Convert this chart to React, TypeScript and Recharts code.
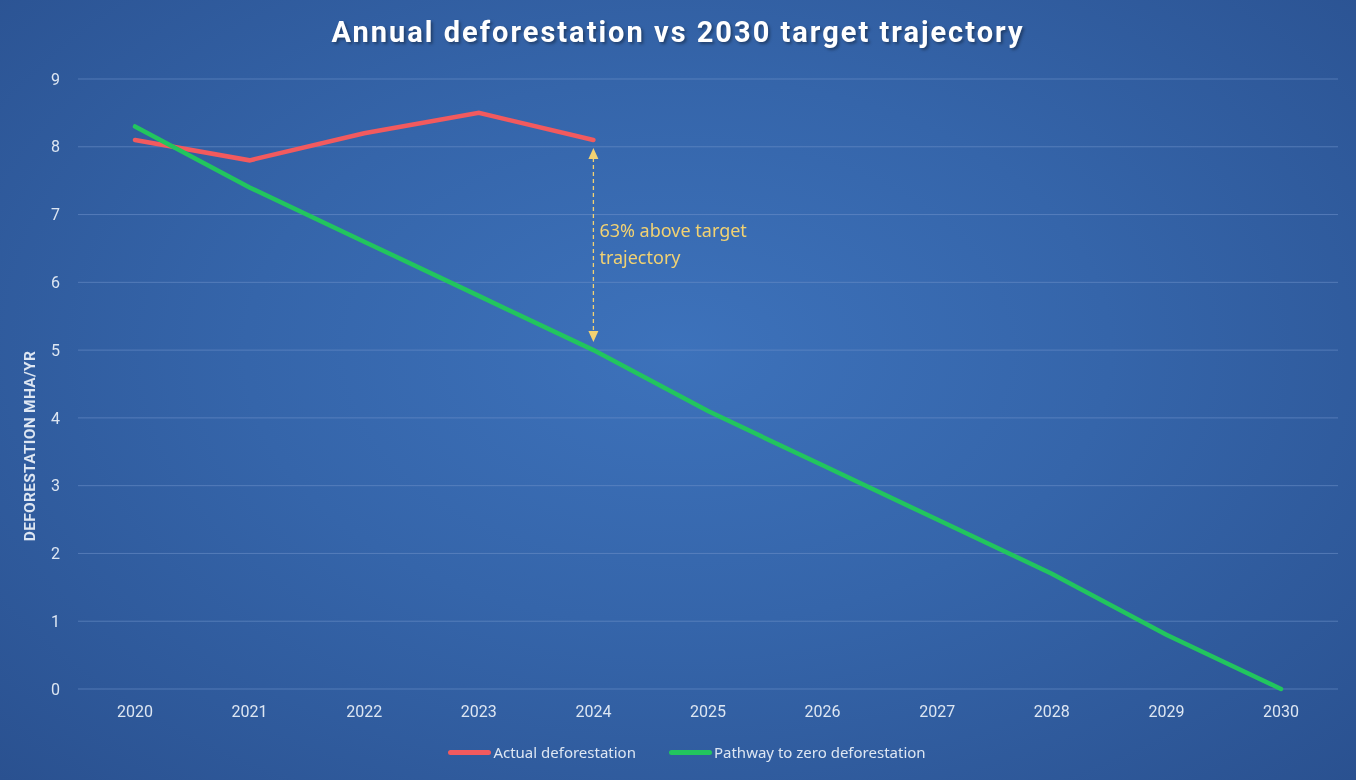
import { CartesianGrid, Legend, Line, LineChart, ReferenceLine, XAxis, YAxis } from "recharts"

const YEARS = ["2020", "2021", "2022", "2023", "2024", "2025", "2026", "2027", "2028", "2029", "2030"]
const ACTUAL = [8.1, 7.8, 8.2, 8.5, 8.1]
const PATHWAY = [8.3, 7.4, 6.6, 5.8, 5.0, 4.1, 3.3, 2.5, 1.7, 0.8, 0]
const Y_TICKS = [0, 1, 2, 3, 4, 5, 6, 7, 8, 9]

const RED = "#f25a5e"
const GREEN = "#22c55e"
const TEXT = "#dde6f2"
const NOTE = "#f2d272"

const data = YEARS.map((year, i) => ({
  year,
  actual: i < ACTUAL.length ? ACTUAL[i] : null,
  pathway: PATHWAY[i],
}))

function GapArrow(props: any) {
  const { x1, y1, y2 } = props
  const top = Math.min(y1, y2) + 8
  const bottom = Math.max(y1, y2) - 8
  const x = x1
  return (
    <g>
      <line x1={x} y1={top + 10} x2={x} y2={bottom - 10} stroke={NOTE} strokeWidth={1.3} strokeDasharray="4 3" />
      <path d={`M${x},${top} L${x - 5},${top + 11} L${x + 5},${top + 11} Z`} fill={NOTE} />
      <path d={`M${x},${bottom} L${x - 5},${bottom - 11} L${x + 5},${bottom - 11} Z`} fill={NOTE} />
      <text x={x + 6} y={top + 89} fill={NOTE} fontSize={18} fontFamily="Noto Sans">
        63% above target
      </text>
      <text x={x + 6} y={top + 116} fill={NOTE} fontSize={18} fontFamily="Noto Sans">
        trajectory
      </text>
    </g>
  )
}

function ChartLegend() {
  const items = [
    { name: "Actual deforestation", color: RED },
    { name: "Pathway to zero deforestation", color: GREEN },
  ]
  return (
    <div style={{ display: "flex", justifyContent: "center", gap: 33, height: 20, paddingLeft: 8 }}>
      {items.map((it) => (
        <div key={it.name} style={{ display: "flex", alignItems: "center" }}>
          <span style={{ width: 43, height: 5, borderRadius: 3, background: it.color, display: "inline-block" }} />
          <span style={{ color: TEXT, fontSize: 15, fontFamily: "Noto Sans", marginLeft: 2 }}>{it.name}</span>
        </div>
      ))}
    </div>
  )
}

export default function App() {
  return (
    <div
      style={{
        position: "fixed",
        top: 0,
        left: 0,
        width: 1356,
        height: 780,
        background: "radial-gradient(ellipse at 50% 45%, #3d72bb 0%, #3565aa 45%, #2a5190 100%)",
        fontFamily: "Roboto",
      }}
    >
      <div
        style={{
          position: "absolute",
          top: 15,
          width: "100%",
          textAlign: "center",
          color: "#ffffff",
          fontSize: 29,
          fontWeight: 700,
          fontFamily: "Roboto",
          letterSpacing: 2,
          textShadow: "2px 2px 3px rgba(0,0,0,0.35)",
        }}
      >
        Annual deforestation vs 2030 target trajectory
      </div>
      <LineChart width={1356} height={780} data={data} margin={{ top: 79, right: 18, bottom: 41, left: 28 }}>
        <CartesianGrid vertical={false} stroke="#6b90c8" strokeOpacity={0.6} />
        <XAxis
          dataKey="year"
          height={30}
          padding={{ left: 57, right: 57 }}
          axisLine={false}
          tickLine={false}
          tick={{ fill: TEXT, fontSize: 16 }}
          tickMargin={11}
        />
        <YAxis
          domain={[0, 9]}
          ticks={Y_TICKS}
          width={50}
          axisLine={false}
          tickLine={false}
          tick={{ fill: TEXT, fontSize: 16 }}
          tickMargin={12}
          label={{
            value: "DEFORESTATION MHA/YR",
            angle: -90,
            position: "insideLeft",
            dx: -4,
            dy: 62,
            style: { fill: TEXT, fontSize: 15.5, fontWeight: 700, textAnchor: "middle", letterSpacing: 0.3 },
          }}
        />
        <Legend verticalAlign="bottom" wrapperStyle={{ bottom: 18 }} content={<ChartLegend />} />
        <ReferenceLine
          segment={[
            { x: "2024", y: 8.1 },
            { x: "2024", y: 5.0 },
          ]}
          shape={<GapArrow />}
        />
        <Line
          dataKey="actual"
          name="Actual deforestation"
          stroke={RED}
          strokeWidth={4.5}
          dot={false}
          type="linear"
          strokeLinecap="round"
          isAnimationActive={false}
        />
        <Line
          dataKey="pathway"
          name="Pathway to zero deforestation"
          stroke={GREEN}
          strokeWidth={4.5}
          dot={false}
          type="linear"
          strokeLinecap="round"
          isAnimationActive={false}
        />
      </LineChart>
    </div>
  )
}
